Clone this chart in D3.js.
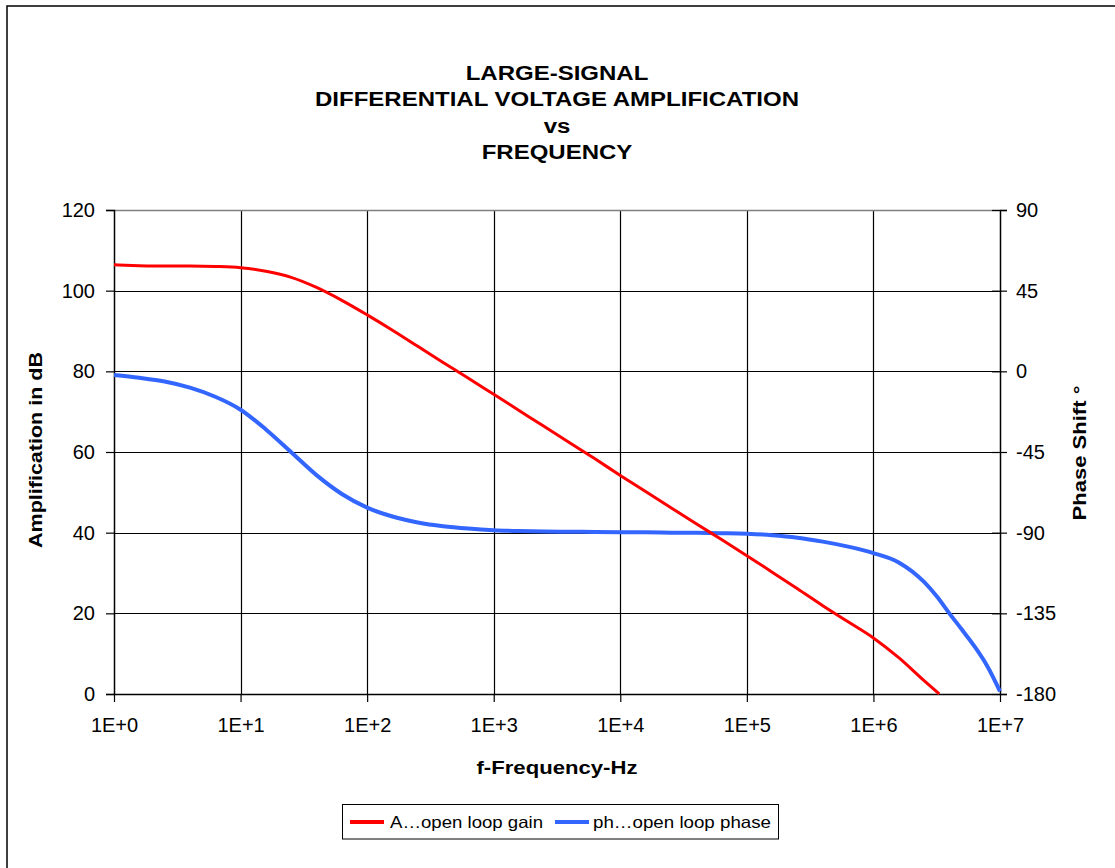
<!DOCTYPE html>
<html>
<head>
<meta charset="utf-8">
<script src="https://cdn.jsdelivr.net/npm/d3@7"></script>
<style>
  html, body { margin: 0; padding: 0; background: #fff; }
  svg { display: block; font-family: "Liberation Sans", Arial, sans-serif; }
</style>
</head>
<body>
<svg id="chart" width="1115" height="868"></svg>
<script>
// Open-loop gain (dB) versus frequency (Hz)
const gainFreq = [1, 1.585, 2.512, 3.981, 6.310,
  10, 15.85, 25.12, 39.81, 63.10,
  100, 158.5, 251.2, 398.1, 631.0,
  1e3, 1.585e3, 2.512e3, 3.981e3, 6.310e3,
  1e4, 1.585e4, 2.512e4, 3.981e4, 6.310e4,
  1e5, 1.585e5, 2.512e5, 3.981e5, 6.310e5,
  1e6, 1.585e6, 2.512e6, 3.31e6];
const gainDb = [106.4, 106.2, 106.1, 106.1, 106.0,
  105.7, 104.8, 103.3, 100.8, 97.6,
  94.0, 90.2, 86.2, 82.2, 78.3,
  74.3, 70.3, 66.3, 62.3, 58.3,
  54.2, 50.2, 46.2, 42.2, 38.3,
  34.3, 30.2, 26.1, 21.9, 17.9,
  13.9, 9.0, 3.3, 0];

// Open-loop phase (degrees) versus frequency (Hz)
const phaseFreq = [1, 1.585, 2.512, 3.981, 6.310,
  10, 15.85, 25.12, 39.81, 63.10,
  100, 158.5, 251.2, 398.1, 631.0,
  1e3, 1.585e3, 2.512e3, 3.981e3, 6.310e3,
  1e4, 1.585e4, 2.512e4, 3.981e4, 6.310e4,
  1e5, 1.585e5, 2.512e5, 3.981e5, 6.310e5,
  1e6, 1.585e6, 2.512e6, 3.162e6, 3.981e6,
  5.012e6, 6.310e6, 7.943e6, 1e7];
const phaseDeg = [-2.0, -3.6, -5.7, -9.1, -14.2,
  -21.4, -32.4, -45.1, -57.9, -68.4,
  -76.0, -81.0, -84.3, -86.4, -87.7,
  -88.6, -89.1, -89.4, -89.5, -89.6,
  -89.7, -89.8, -90.0, -90.1, -90.3,
  -90.6, -91.4, -92.8, -95.0, -97.8,
  -101.4, -106.6, -117.5, -125.5, -135.0,
  -144.2, -153.6, -164.5, -178.5];

// Axis ticks
const xTicks = [1, 10, 100, 1e3, 1e4, 1e5, 1e6, 1e7];
const gainTicks = [0, 20, 40, 60, 80, 100, 120];
const phaseTicks = [-180, -135, -90, -45, 0, 45, 90];

const titleLines = ["LARGE-SIGNAL", "DIFFERENTIAL VOLTAGE AMPLIFICATION", "vs", "FREQUENCY"];
const seriesNames = ["A…open loop gain", "ph…open loop phase"];
const seriesColors = ["#ff0000", "#3366ff"];

const svg = d3.select("#chart");
const pLeft = 114, pRight = 1000, pTop = 210, pBottom = 694;

const x = d3.scaleLog().domain([1, 1e7]).range([pLeft, pRight]);
const yL = d3.scaleLinear().domain([0, 120]).range([pBottom, pTop]);
const yR = d3.scaleLinear().domain([-180, 90]).range([pBottom, pTop]);

// Widen a text element horizontally (along its reading direction)
function stretch(sel, factor) {
  sel.each(function () {
    const w = this.getComputedTextLength();
    d3.select(this).attr("textLength", w * factor).attr("lengthAdjust", "spacingAndGlyphs");
  });
}

// Outer frame
svg.append("rect")
  .attr("x", 7).attr("y", 6).attr("width", 1120).attr("height", 880)
  .attr("fill", "none").attr("stroke", "#000").attr("stroke-width", 1.5);

// Title
svg.append("g").selectAll("text").data(titleLines).join("text")
  .attr("text-anchor", "middle")
  .attr("font-weight", "bold").attr("font-size", 20)
  .attr("x", 557)
  .attr("y", (d, i) => 80 + i * 26.3)
  .text(d => d)
  .call(stretch, 1.2);

// Gridlines
const grid = svg.append("g").attr("stroke", "#000").attr("stroke-width", 1.2);
grid.selectAll("line.h").data(gainTicks.filter(d => d > 0 && d < 120)).join("line")
  .attr("class", "h")
  .attr("x1", pLeft).attr("x2", pRight)
  .attr("y1", d => Math.round(yL(d)) + 0.5).attr("y2", d => Math.round(yL(d)) + 0.5);
grid.selectAll("line.v").data(xTicks.slice(1, -1)).join("line")
  .attr("class", "v")
  .attr("y1", pTop).attr("y2", pBottom)
  .attr("x1", d => Math.round(x(d)) + 0.5).attr("x2", d => Math.round(x(d)) + 0.5);

// Plot top border (grey)
svg.append("line")
  .attr("x1", pLeft).attr("x2", pRight).attr("y1", pTop + 0.5).attr("y2", pTop + 0.5)
  .attr("stroke", "#808080").attr("stroke-width", 1.5);

// Axes
const fmtX = d => "1E+" + Math.round(Math.log10(d));
const fmtY = d => String(d);
const xAxis = d3.axisBottom(x).tickValues(xTicks).tickFormat(fmtX).tickSize(8).tickPadding(16);
const yAxisL = d3.axisLeft(yL).tickValues(gainTicks).tickFormat(fmtY).tickSize(8).tickPadding(11);
const yAxisR = d3.axisRight(yR).tickValues(phaseTicks).tickFormat(fmtY).tickSize(7).tickPadding(9);

function styleAxis(g) {
  g.select(".domain").attr("stroke", "#000").attr("stroke-width", 1.5);
  g.selectAll(".tick line").attr("stroke", "#000").attr("stroke-width", 1.2);
  g.selectAll(".tick text").attr("fill", "#000")
    .attr("font-size", 20).attr("font-family", "Liberation Sans, Arial, sans-serif");
}

const bAxis = svg.append("g").attr("transform", `translate(0,${pBottom})`).call(xAxis).call(styleAxis);
bAxis.select(".domain").remove();
svg.append("line").attr("x1", pLeft).attr("x2", pRight).attr("y1", pBottom + 0.5).attr("y2", pBottom + 0.5)
  .attr("stroke", "#000").attr("stroke-width", 1.5);
svg.append("g").attr("transform", `translate(${pLeft},0)`).call(yAxisL).call(styleAxis);
const rAxis = svg.append("g").attr("transform", `translate(${pRight},0)`).call(yAxisR).call(styleAxis);
rAxis.selectAll(".tick line").attr("x1", -8);

// Axis titles
svg.append("text")
  .attr("transform", "translate(42,450) rotate(-90)")
  .attr("text-anchor", "middle").attr("font-weight", "bold").attr("font-size", 18)
  .attr("textLength", 196).attr("lengthAdjust", "spacingAndGlyphs")
  .text("Amplification in dB");
svg.append("text")
  .attr("transform", "translate(1086,453) rotate(-90)")
  .attr("text-anchor", "middle").attr("font-weight", "bold").attr("font-size", 18)
  .attr("textLength", 135).attr("lengthAdjust", "spacingAndGlyphs")
  .text("Phase Shift °");
svg.append("text")
  .attr("x", 557).attr("y", 774)
  .attr("text-anchor", "middle").attr("font-weight", "bold").attr("font-size", 18)
  .attr("textLength", 161).attr("lengthAdjust", "spacingAndGlyphs")
  .text("f-Frequency-Hz");

// Series
const plot = svg.append("g");
const gainLine = d3.line()
  .x(d => x(d[0])).y(d => yL(d[1]))
  .curve(d3.curveMonotoneX);
const phaseLine = d3.line()
  .x(d => x(d[0])).y(d => yR(d[1]))
  .curve(d3.curveMonotoneX);

plot.append("path")
  .datum(phaseFreq.map((f, i) => [f, phaseDeg[i]]))
  .attr("d", phaseLine)
  .attr("fill", "none").attr("stroke", seriesColors[1]).attr("stroke-width", 4);
plot.append("path")
  .datum(gainFreq.map((f, i) => [f, gainDb[i]]))
  .attr("d", gainLine)
  .attr("fill", "none").attr("stroke", seriesColors[0]).attr("stroke-width", 3);

// Legend
const legend = svg.append("g");
legend.append("rect")
  .attr("x", 342.5).attr("y", 804.5).attr("width", 436).attr("height", 34.5)
  .attr("fill", "#fff").attr("stroke", "#000").attr("stroke-width", 1);
const legendItems = [{ lx: 350, tx: 390, w: 153 }, { lx: 555, tx: 593, w: 178 }];
legendItems.forEach((it, i) => {
  legend.append("line")
    .attr("x1", it.lx).attr("x2", it.lx + 34).attr("y1", 822).attr("y2", 822)
    .attr("stroke", seriesColors[i]).attr("stroke-width", 4);
  legend.append("text")
    .attr("x", it.tx).attr("y", 828)
    .attr("font-size", 16.5).attr("fill", "#000")
    .attr("textLength", it.w).attr("lengthAdjust", "spacingAndGlyphs")
    .text(seriesNames[i]);
});
</script>
</body>
</html>
